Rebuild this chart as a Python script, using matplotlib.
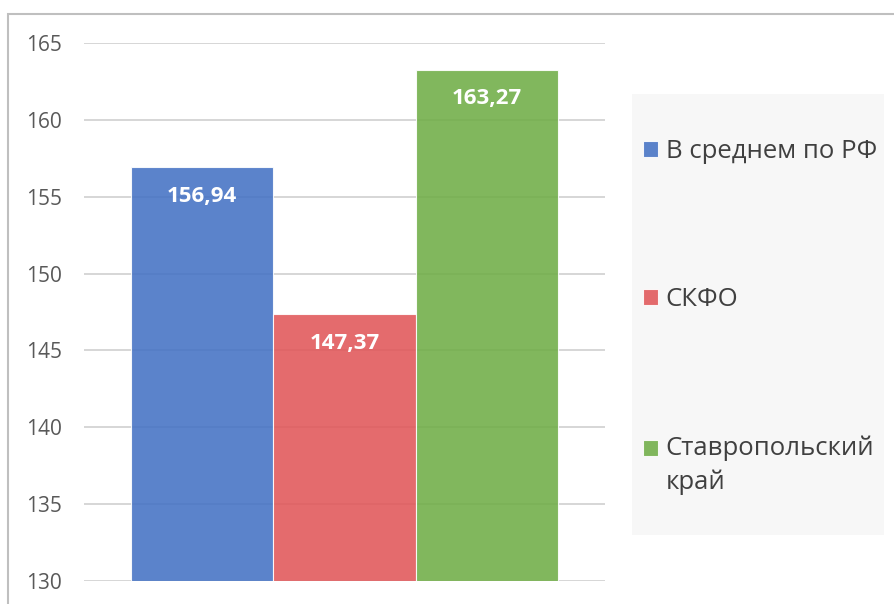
import matplotlib.pyplot as plt
from matplotlib.patches import Rectangle

plt.rcParams['font.family'] = ['Open Sans', 'DejaVu Sans']

labels = ['В среднем по РФ', 'СКФО', 'Ставропольский\nкрай']
values = [156.94, 147.37, 163.27]
value_text = ['156,94', '147,37', '163,27']
colors = ['#4472C4', '#E15759', '#70AD47']
yticks = [130, 135, 140, 145, 150, 155, 160, 165]

fig = plt.figure(figsize=(8.95, 6.04), dpi=100)
# outer chart frame (only top and left edges are visible in the crop)
fig.patches.append(Rectangle((8 / 895, -0.1), 1.2, 1 - 14 / 604 + 0.1,
                             transform=fig.transFigure, fill=False,
                             edgecolor='#BFBFBF', linewidth=1.5, zorder=-1))
# grey legend panel, kept behind the axes so the legend shows on top
fig.patches.append(Rectangle((632 / 895, 1 - 535 / 604), (884 - 632) / 895, (535 - 94) / 604,
                             transform=fig.transFigure, facecolor='#F7F7F7',
                             edgecolor='none', zorder=-1))

ax = fig.add_axes([84 / 895, 1 - 581 / 604, (605 - 84) / 895, (581 - 43) / 604])
ax.patch.set_visible(False)

for i, (v, c, lab) in enumerate(zip(values, colors, labels)):
    ax.bar(i, v - 130, bottom=130, width=1.0, color=c, alpha=0.88,
           edgecolor='white', linewidth=0.8, label=lab, zorder=3)
    ax.annotate(value_text[i], (i, v), xytext=(0, -21), textcoords='offset points',
                ha='center', va='center', color='white', fontsize=16,
                fontweight='bold', zorder=4)

ax.set_ylim(130, 165)
ax.set_xlim(-0.5 - 47 / 142, 2.5 + 47 / 142)
ax.set_yticks(yticks)
ax.set_xticks([])
ax.tick_params(axis='y', length=0, pad=16, labelsize=15, labelcolor='#595959')
ax.grid(axis='y', color='#D0D0D0', linewidth=1.2, zorder=0)
for s in ax.spines.values():
    s.set_visible(False)

leg = ax.legend(loc='center left', bbox_to_anchor=(643 / 895, 1 - 317 / 604),
                bbox_transform=fig.transFigure, frameon=False,
                fontsize=18.5, handlelength=0.58, handleheight=0.58, handletextpad=0.3,
                labelspacing=4.8, borderpad=0, borderaxespad=0)
for t in leg.get_texts():
    t.set_color('#404040')
    t.set_linespacing(1.45)
# two-line entry: put the marker next to the first line, as in the original
h = leg.legend_handles[2]
h.set_y(h.get_y() + 13)

fig.savefig('out.png', dpi=100)
